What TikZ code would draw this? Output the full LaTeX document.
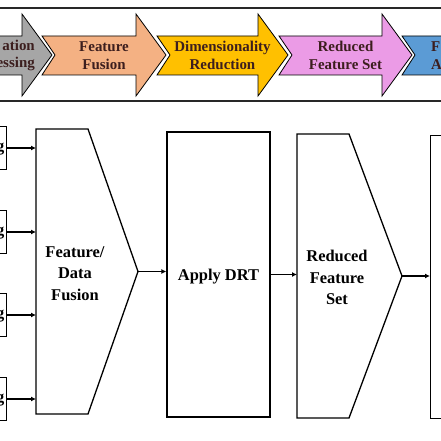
\documentclass[tikz,border=0pt]{standalone}
\usepackage{fontspec}
\setmainfont{Liberation Serif}
\usetikzlibrary{arrows.meta}
\definecolor{grayfill}{RGB}{166,166,166}
\definecolor{orangefill}{RGB}{244,177,131}
\definecolor{yellowfill}{RGB}{255,192,0}
\definecolor{pinkfill}{RGB}{235,155,230}
\definecolor{bluefill}{RGB}{91,155,213}
\definecolor{stageink}{RGB}{60,30,30}
\newcommand\StageArrow[4]{%
    \draw[stage,fill=#4] (#2,36) -- ({#3-30},36) -- ({#3-30},14) -- (#3,55) coordinate(#1Tip)
        -- ({#3-30},96) -- ({#3-30},75) -- (#2,75) -- ({#2+13},55) -- cycle;
    \coordinate (#1Mid) at ({(#2+#3)/2},55.5);
}
\newcommand\MergeBlock[6]{%
    \draw[block] (#2,#3) coordinate(#1NW) -- (#4,#3) -- (#5,{(#3+#6)/2}) coordinate(#1Tip)
        -- (#4,#6) -- (#2,#6) coordinate(#1SW) -- cycle;
}
\tikzset{
    frame/.style={draw={rgb,255:red,40;green,40;blue,40},line width=1.6bp},
    stage/.style={draw=black,line width=0.8bp},
    stagetext/.style={font=\fontsize{15}{18}\selectfont\bfseries,text=stageink,align=center,inner sep=0pt},
    block/.style={draw=black,line width=1.3bp},
    blocktext/.style={font=\fontsize{16.5}{21.5}\selectfont\bfseries,align=center,inner sep=0pt},
    inbox/.style={block,blocktext,anchor=east,minimum height=43bp,text width=36bp,
        inner xsep=2bp,align=right,text height=11bp,text depth=4bp},
}
\begin{document}
\begin{tikzpicture}[x=1bp,y=-1bp,>={Latex[length=5bp,width=5bp]}]
    \useasboundingbox (0,0) rectangle (441,441);
    \clip (0,0) rectangle (441,441);
    % process strip
    \draw[frame] (-10,8) rectangle (451,101);
    \StageArrow{prep}{-90}{52}{grayfill}
    \StageArrow{fusion}{42}{166}{orangefill}
    \StageArrow{dimred}{157}{288}{yellowfill}
    \StageArrow{reduced}{279}{412}{pinkfill}
    \StageArrow{next}{402}{530}{bluefill}
    \node[stagetext,anchor=east,align=right] (prepText) at (35,55.5) {ation\\essing};
    \node[stagetext] (fusionText) at (fusionMid) {Feature\\Fusion};
    \node[stagetext] (dimredText) at (dimredMid) {Dimensionality\\Reduction};
    \node[stagetext] (reducedText) at (reducedMid) {Reduced\\Feature Set};
    \node[stagetext,anchor=west,align=left] (nextText) at (431,55.5) {F\\A};
    % block diagram
    \MergeBlock{fuse}{36}{129}{88}{138}{414}
    \node[blocktext] (fuseText) at (75,273.5) {Feature/\\Data\\Fusion};
    \foreach \y [count=\i] in {148,232,315,399} {
        \node[inbox] (in\i) at (7,\y) {g};
        \draw[block,->] (in\i) -- (in\i -| fuseNW);
    }
    \node[block,blocktext,text depth=0bp,minimum width=103bp,minimum height=285bp] (drt) at (218.5,274.5) {Apply DRT};
    \draw[block,->] (fuseTip) -- (fuseTip -| drt.west);
    \MergeBlock{red}{297}{134}{349}{402}{418}
    \node[blocktext] (redText) at (337,277.5) {Reduced\\Feature\\Set};
    \draw[block,->] (drt.east) -- (drt.east -| redNW);
    \node[block,anchor=north west,minimum width=60bp,minimum height=283bp] (out) at (430,135) {};
    \draw[block,->] (redTip) -- (redTip -| out.west);
\end{tikzpicture}
\end{document}
